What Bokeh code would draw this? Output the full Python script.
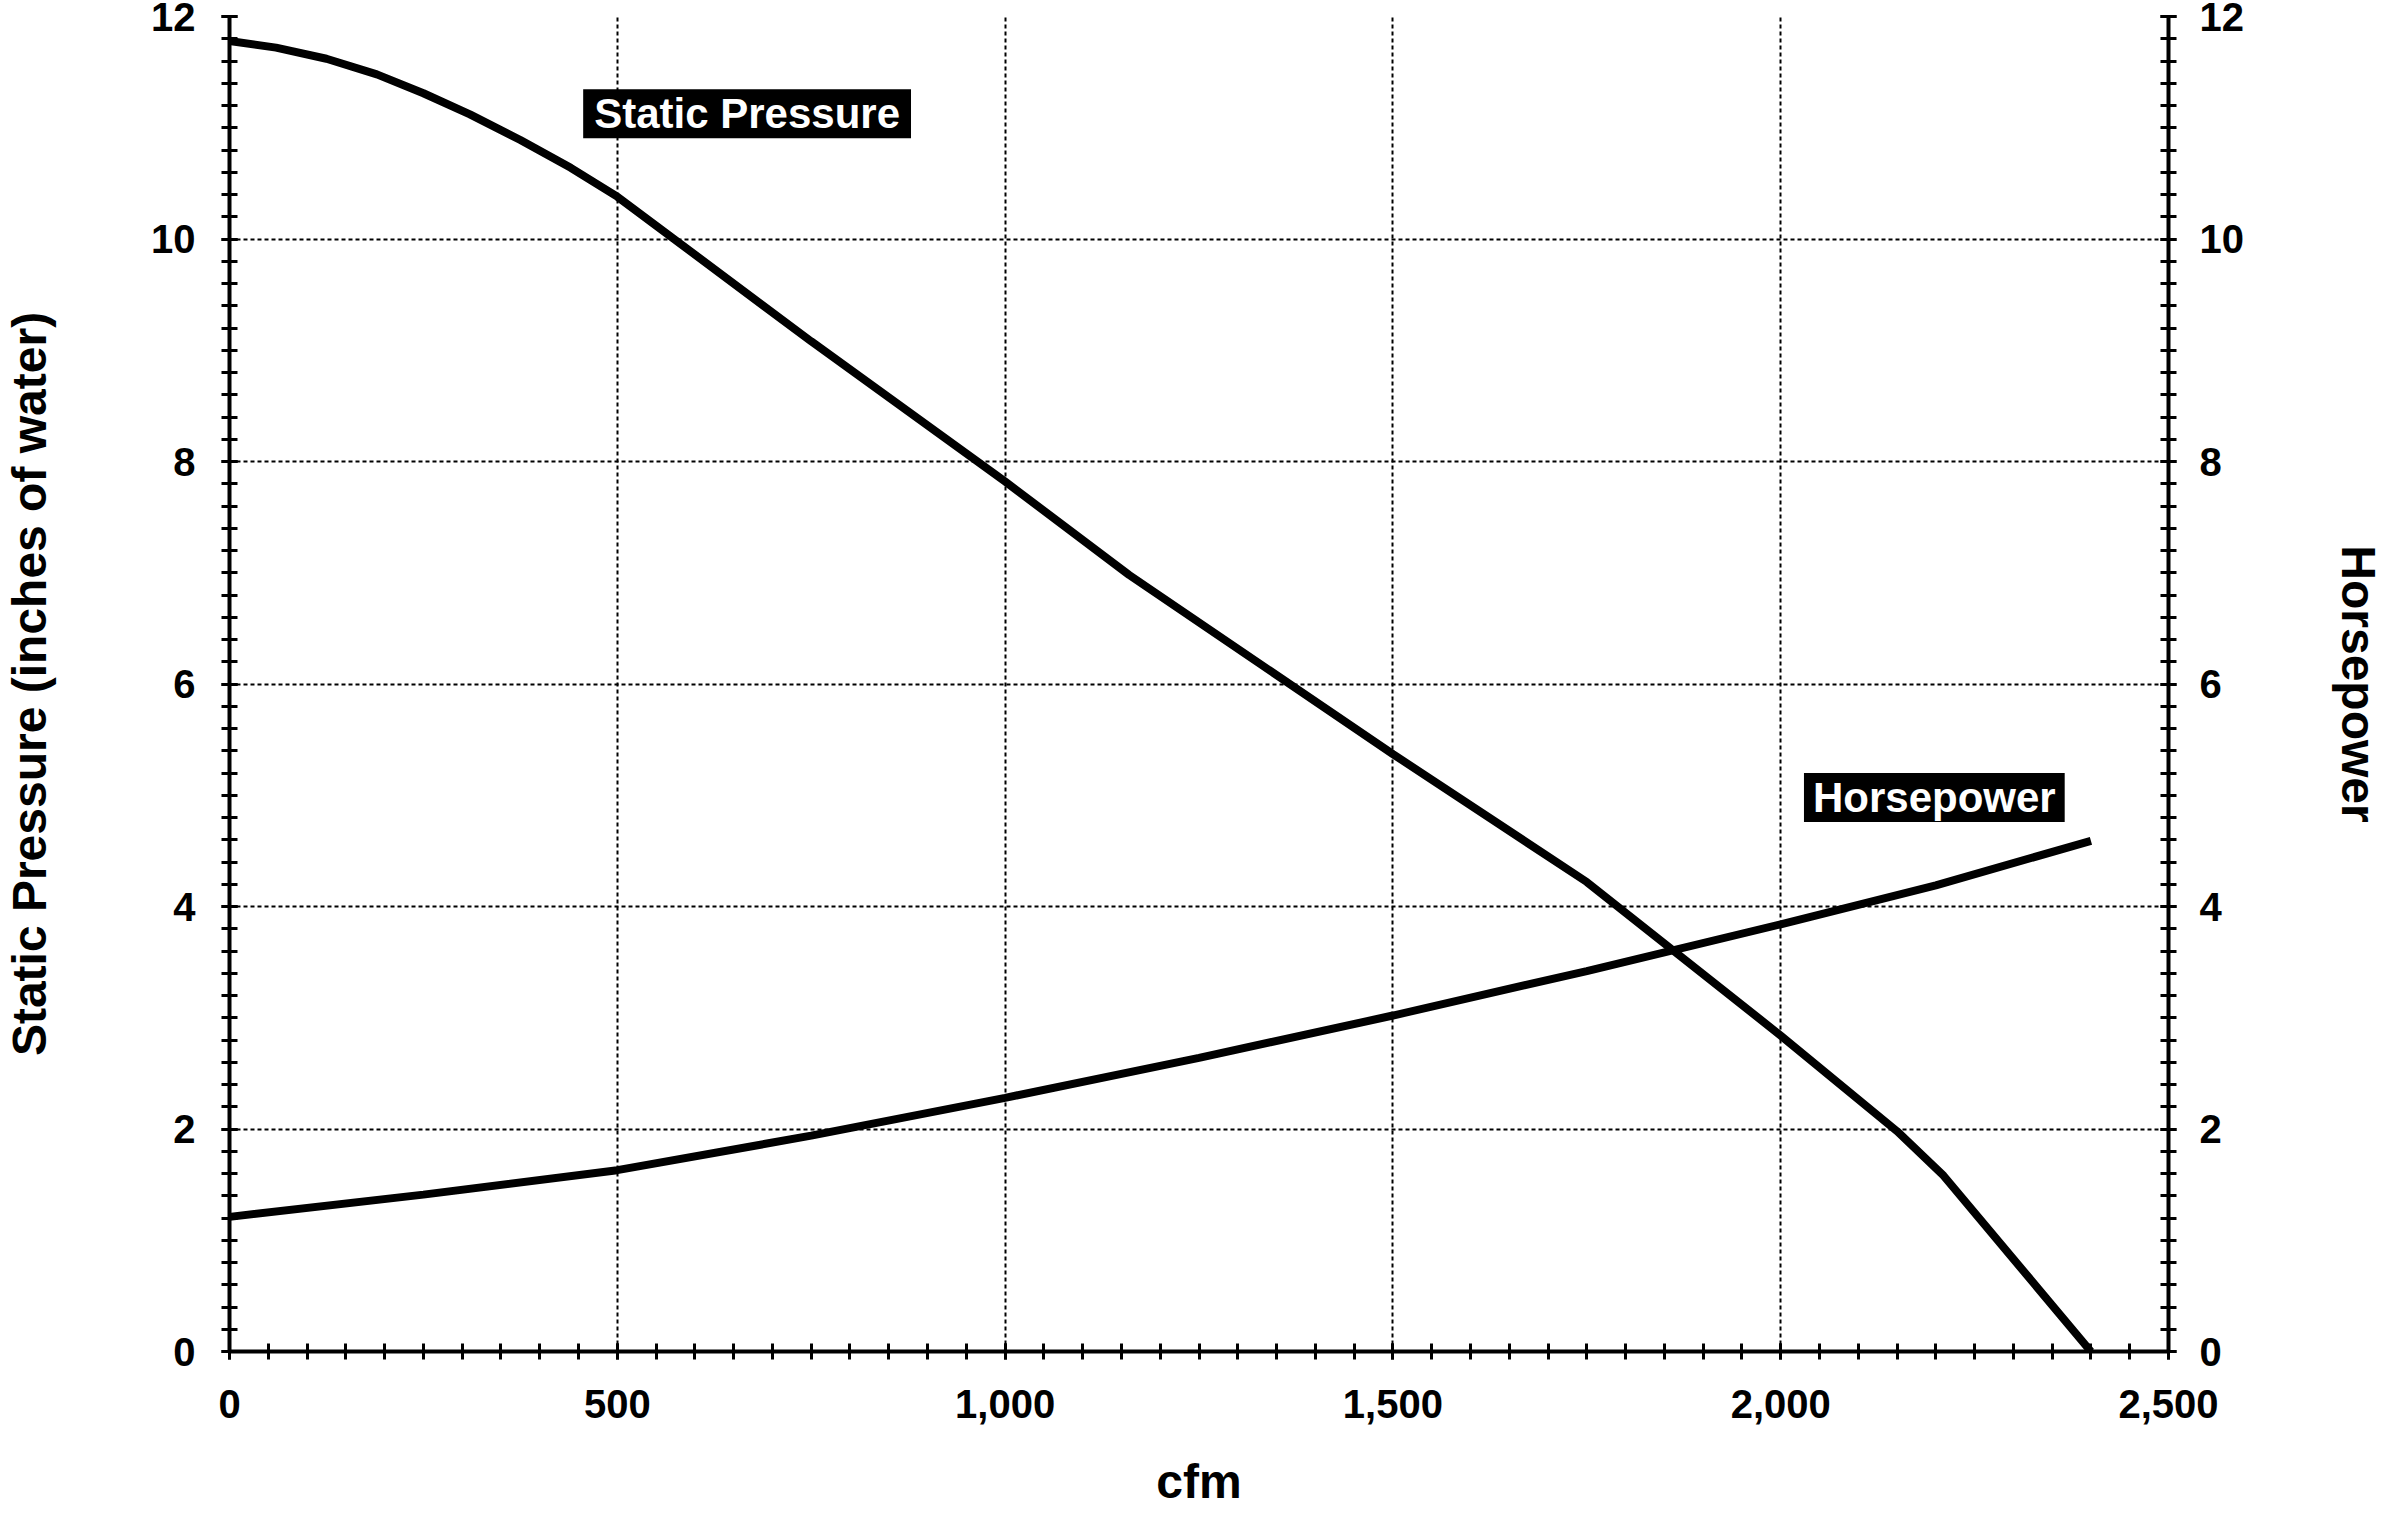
from bokeh.plotting import figure
from bokeh.models import Range1d, LinearAxis, Label, SingleIntervalTicker, NumeralTickFormatter
from bokeh.embed import file_html
from bokeh.resources import INLINE

# fan curve
cfm_sp = [0, 60, 125, 190, 250, 310, 375, 440, 500, 750, 1000, 1160, 1500, 1750, 2000, 2150, 2210, 2400]
static_pressure = [11.78, 11.72, 11.62, 11.48, 11.31, 11.12, 10.89, 10.64, 10.38, 9.08, 7.82, 6.98,
                   5.37, 4.22, 2.84, 1.98, 1.58, 0.0]

cfm_hp = [0, 250, 500, 750, 1000, 1250, 1500, 1750, 2000, 2200, 2400]
horsepower = [1.21, 1.41, 1.63, 1.94, 2.28, 2.64, 3.02, 3.42, 3.84, 4.19, 4.59]

FONT = "Liberation Sans"

p = figure(
    width=2387, height=1524,
    x_range=Range1d(0, 2500), y_range=Range1d(0, 12),
    output_backend="svg", toolbar_location=None,
    min_border_left=229, min_border_right=216, min_border_top=16, min_border_bottom=173,
)
p.extra_y_ranges = {"hp": Range1d(0, 12)}
p.outline_line_color = None
p.background_fill_color = "white"
p.border_fill_color = "white"

# axes
p.xaxis.ticker = SingleIntervalTicker(interval=500, num_minor_ticks=10)
p.yaxis.ticker = SingleIntervalTicker(interval=2, num_minor_ticks=10)
p.xaxis.formatter = NumeralTickFormatter(format="0,0")

right = LinearAxis(y_range_name="hp", ticker=SingleIntervalTicker(interval=2, num_minor_ticks=10))
p.add_layout(right, "right")

p.xaxis.axis_label = "cfm"
p.yaxis[0].axis_label = "Static Pressure (inches of water)"
right.axis_label = "Horsepower"

for ax in [p.xaxis[0], p.yaxis[0], right]:
    ax.axis_line_color = "black"
    ax.axis_line_width = 4
    ax.major_tick_line_color = "black"
    ax.minor_tick_line_color = "black"
    ax.major_tick_line_width = 3
    ax.minor_tick_line_width = 3
    ax.major_tick_in = 8
    ax.major_tick_out = 8
    ax.minor_tick_in = 8
    ax.minor_tick_out = 8
    ax.major_label_text_font = FONT
    ax.major_label_text_font_size = "40px"
    ax.major_label_text_font_style = "bold"
    ax.major_label_text_color = "black"
    ax.axis_label_text_font = FONT
    ax.axis_label_text_font_size = "48px"
    ax.axis_label_text_font_style = "bold"
    ax.axis_label_text_color = "black"

p.xaxis.major_label_standoff = 30
p.xaxis.axis_label_standoff = 34
p.yaxis[0].major_label_standoff = 26
p.yaxis[0].axis_label_standoff = 92
right.major_label_standoff = 23
right.axis_label_standoff = 85

# dotted grid
for g in [p.xgrid[0], p.ygrid[0]]:
    g.grid_line_color = "black"
    g.grid_line_width = 2
    g.grid_line_dash = "4 3"
    g.grid_line_alpha = 1.0

# curves
p.line(cfm_sp, static_pressure, line_color="black", line_width=8)
p.line(cfm_hp, horsepower, line_color="black", line_width=8, y_range_name="hp")

# curve labels
p.add_layout(Label(x=456, y=11.125, text="Static Pressure", text_color="white",
                   text_font=FONT, text_font_size="42px", text_font_style="bold",
                   text_baseline="middle", background_fill_color="black", padding=(11, 1)))
p.add_layout(Label(x=2030, y=4.98, text="Horsepower", text_color="white",
                   text_font=FONT, text_font_size="42px", text_font_style="bold",
                   text_baseline="middle", background_fill_color="black", padding=(9, 1)))

open("out.html", "w").write(file_html(p, INLINE))
